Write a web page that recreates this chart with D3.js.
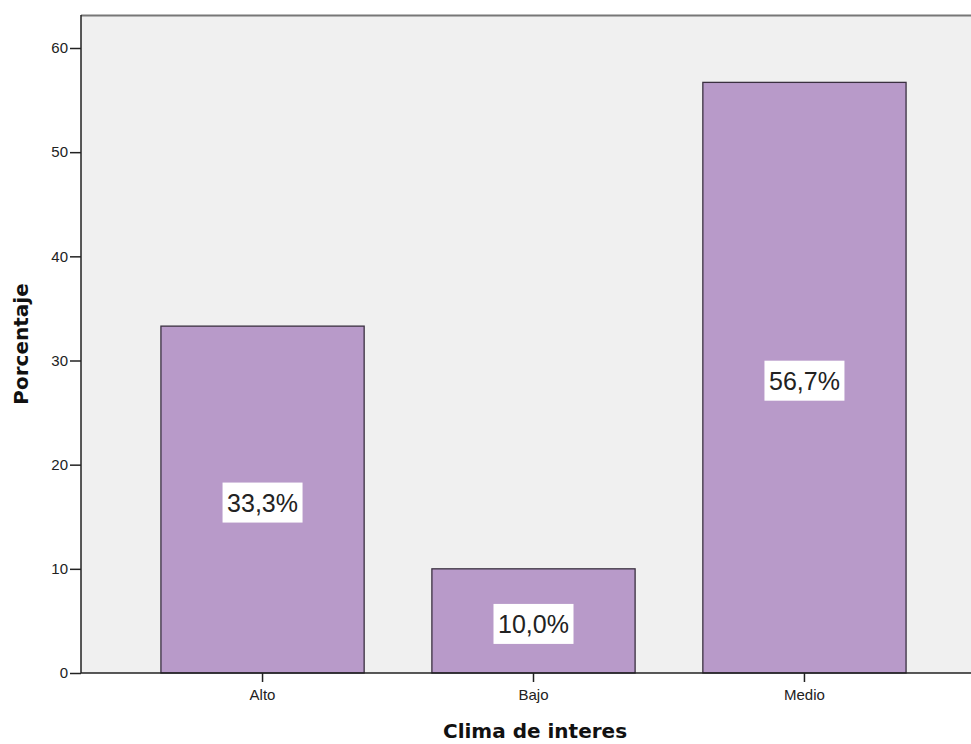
<!DOCTYPE html>
<html>
<head>
<meta charset="utf-8">
<script src="https://cdn.jsdelivr.net/npm/d3@7"></script>
<style>
  html, body { margin: 0; padding: 0; background: #fff; }
  svg { display: block; }
</style>
</head>
<body>
<svg id="chart" width="971" height="744"></svg>
<script>
// Percentage of respondents by climate of interest
const categories = ["Alto", "Bajo", "Medio"];
const percentages = [33.3, 10.0, 56.7];
const valueLabels = ["33,3%", "10,0%", "56,7%"];
const yTicks = [0, 10, 20, 30, 40, 50, 60];

const svg = d3.select("#chart");
const plotLeft = 81, plotTop = 15, plotBottom = 673, plotRight = 986;
const sans = "Arial, 'Liberation Sans', sans-serif";
const titleFont = "'DejaVu Sans', Verdana, sans-serif";

const x = d3.scaleBand()
  .domain(categories)
  .range([plotLeft, plotRight])
  .paddingInner(0.25)
  .paddingOuter(0.295);

const y = d3.scaleLinear()
  .domain([0, 60])
  .range([plotBottom, 48]);

// plot background
svg.append("rect")
  .attr("x", plotLeft).attr("y", plotTop)
  .attr("width", 971 - plotLeft).attr("height", plotBottom - plotTop)
  .attr("fill", "#f0f0f0");

// top frame line
svg.append("line")
  .attr("x1", plotLeft).attr("x2", 971)
  .attr("y1", plotTop + 0.5).attr("y2", plotTop + 0.5)
  .attr("stroke", "#777").attr("stroke-width", 2);

// bars
svg.selectAll("rect.bar")
  .data(categories)
  .join("rect")
  .attr("class", "bar")
  .attr("x", d => x(d))
  .attr("y", (d, i) => y(percentages[i]))
  .attr("width", x.bandwidth())
  .attr("height", (d, i) => y(0) - y(percentages[i]))
  .attr("fill", "#b89ac9")
  .attr("stroke", "#3a3040")
  .attr("stroke-width", 1.3);

// value labels in white boxes, centred at half the bar height
const lab = svg.selectAll("g.lab")
  .data(categories)
  .join("g")
  .attr("class", "lab")
  .attr("transform", (d, i) => `translate(${x(d) + x.bandwidth() / 2},${y(percentages[i] / 2) + 3})`);

lab.append("rect")
  .attr("x", -40).attr("y", -20)
  .attr("width", 80).attr("height", 40)
  .attr("fill", "#fff");

lab.append("text")
  .attr("text-anchor", "middle")
  .attr("y", 9.5)
  .attr("font-family", sans)
  .attr("font-size", 25)
  .attr("fill", "#222")
  .text((d, i) => valueLabels[i]);

// y axis
const yAxis = d3.axisLeft(y).tickValues(yTicks).tickSize(11).tickPadding(2);
const gy = svg.append("g").attr("transform", `translate(${plotLeft},0)`).call(yAxis);
gy.select(".domain").attr("stroke", "#222").attr("stroke-width", 1.5)
  .attr("d", `M0,${plotTop}V${plotBottom}`);
gy.selectAll(".tick line").attr("stroke", "#222").attr("stroke-width", 1.5);
gy.selectAll(".tick text")
  .attr("font-family", sans)
  .attr("font-size", 15).attr("fill", "#222");

// x axis
const xAxis = d3.axisBottom(x).tickSize(9).tickPadding(7);
const gx = svg.append("g").attr("transform", `translate(0,${plotBottom})`).call(xAxis);
gx.select(".domain").attr("stroke", "#222").attr("stroke-width", 1.5)
  .attr("d", `M${plotLeft},0H971`);
gx.selectAll(".tick line").attr("stroke", "#222").attr("stroke-width", 1.5);
gx.selectAll(".tick text")
  .attr("font-family", sans)
  .attr("font-size", 15).attr("fill", "#222");

// axis titles
svg.append("text")
  .attr("x", 535).attr("y", 738)
  .attr("text-anchor", "middle")
  .attr("font-family", titleFont)
  .attr("font-weight", "bold").attr("font-size", 20).attr("fill", "#111")
  .text("Clima de interes");

svg.append("text")
  .attr("transform", "translate(28,344) rotate(-90)")
  .attr("text-anchor", "middle")
  .attr("font-family", titleFont)
  .attr("font-weight", "bold").attr("font-size", 20).attr("fill", "#111")
  .text("Porcentaje");
</script>
</body>
</html>
